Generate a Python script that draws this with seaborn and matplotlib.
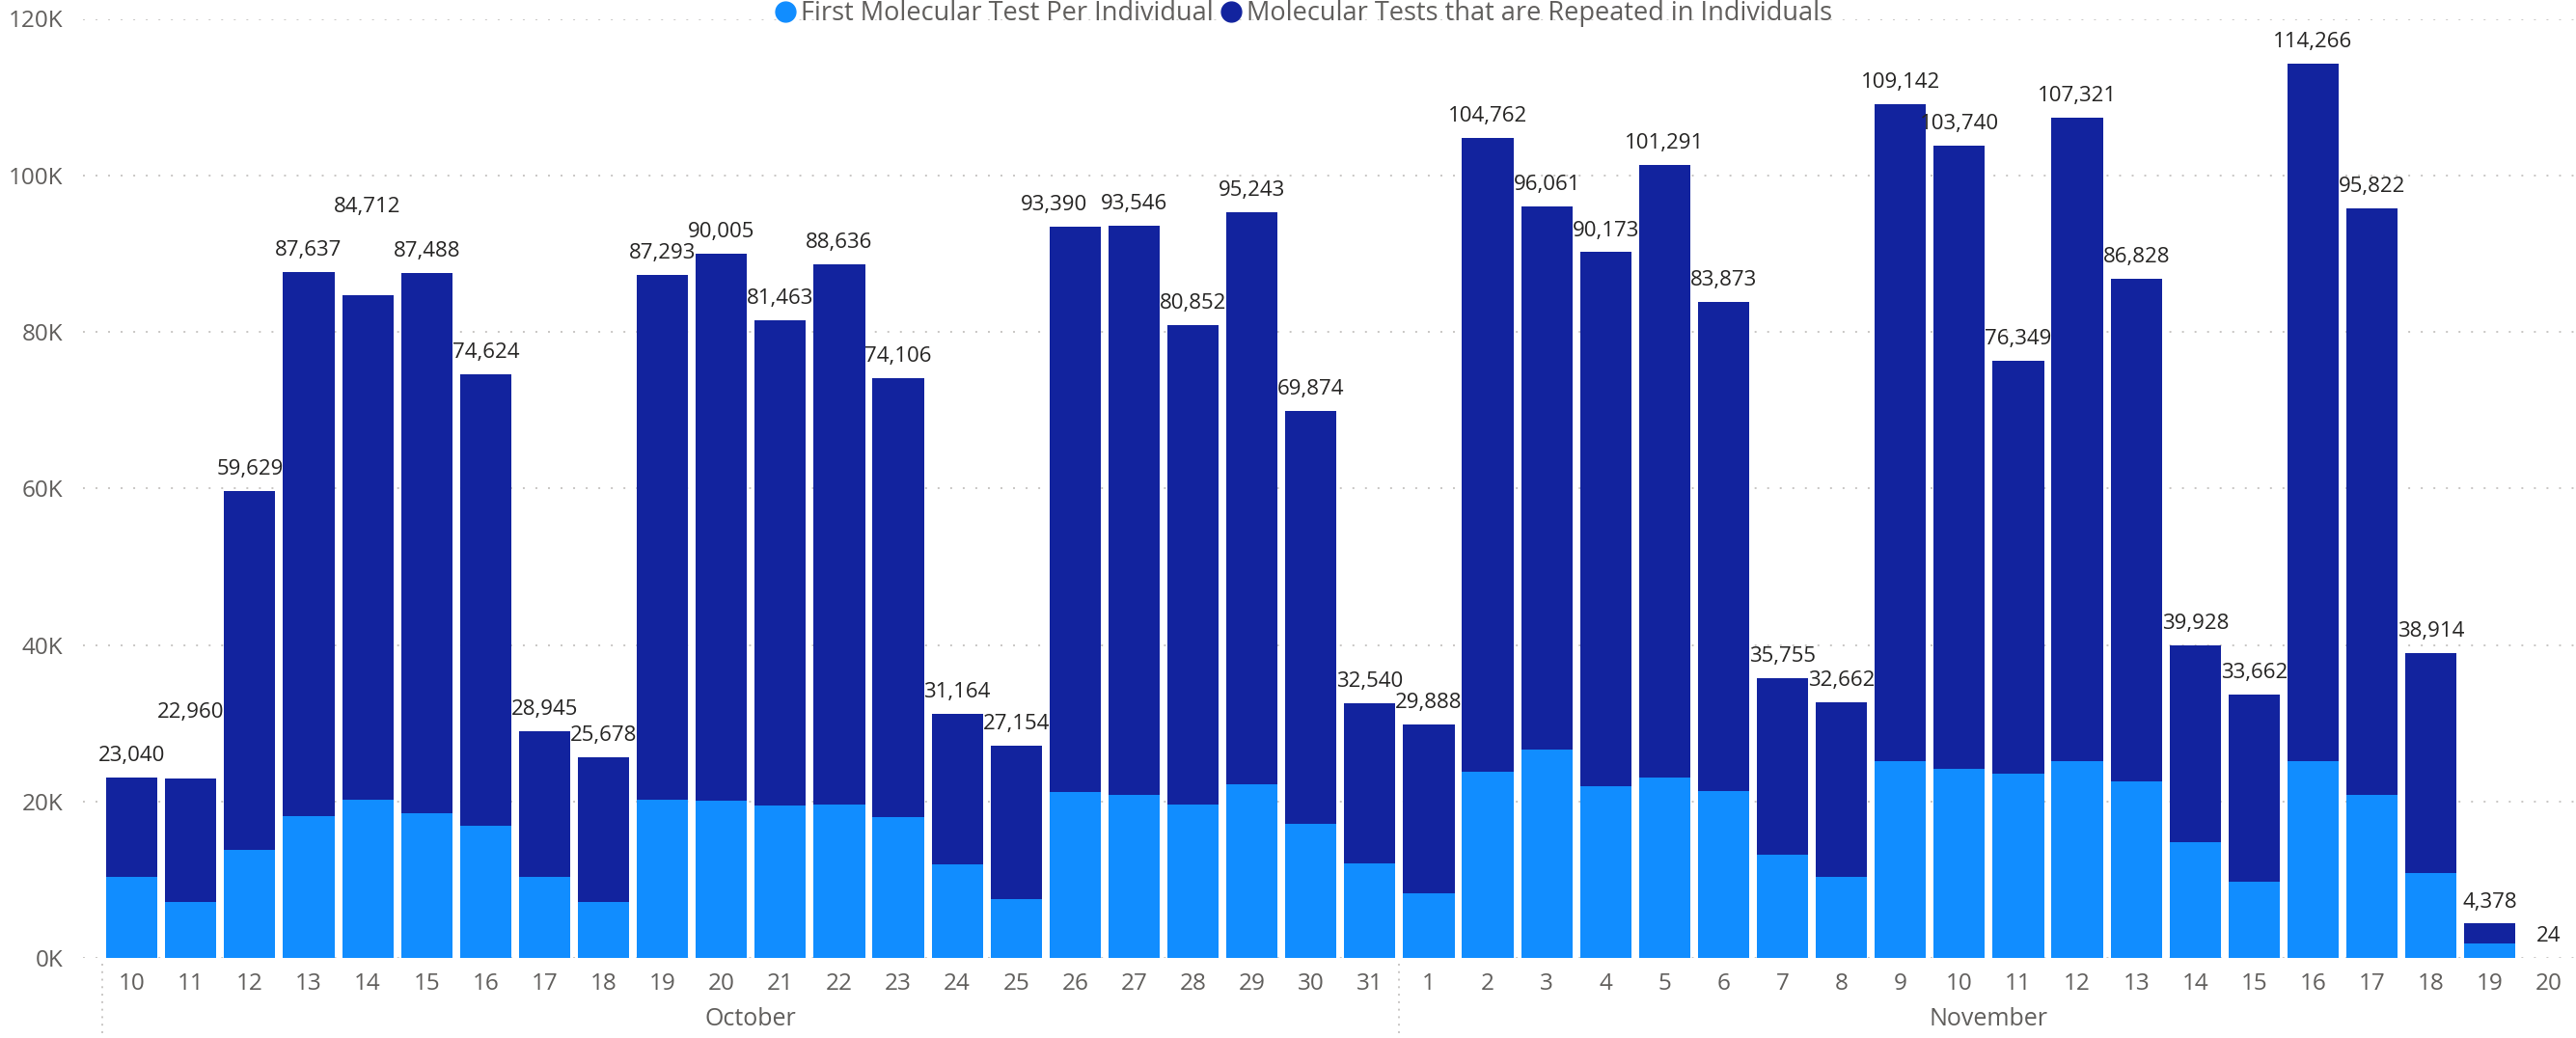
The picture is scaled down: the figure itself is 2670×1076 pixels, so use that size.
import numpy as np
import pandas as pd
import matplotlib
matplotlib.use("Agg")
import matplotlib.pyplot as plt
import matplotlib.transforms as mtransforms
from matplotlib.lines import Line2D
import seaborn as sns

# ------------------------------------------------------------
# Data
# ------------------------------------------------------------
oct_days = list(range(10, 32))
nov_days = list(range(1, 21))

oct_totals = [23040, 22960, 59629, 87637, 84712, 87488, 74624, 28945, 25678, 87293, 90005,
              81463, 88636, 74106, 31164, 27154, 93390, 93546, 80852, 95243, 69874, 32540]
nov_totals = [29888, 104762, 96061, 90173, 101291, 83873, 35755, 32662, 109142, 103740,
              76349, 107321, 86828, 39928, 33662, 114266, 95822, 38914, 4378, 24]

oct_first = [10400, 7200, 13800, 18100, 20200, 18500, 16900, 10300, 7200, 20200, 20100,
             19500, 19600, 18000, 12000, 7500, 21200, 20800, 19600, 22200, 17100, 12100]
nov_first = [8300, 23800, 26600, 22000, 23100, 21300, 13200, 10300, 25100, 24200,
             23500, 25100, 22500, 14800, 9700, 25200, 20800, 10900, 1800, 0]

months = ["October", "November"]
series_names = ["First Molecular Test Per Individual",
                "Molecular Tests that are Repeated in Individuals"]

# ------------------------------------------------------------
# Build table
# ------------------------------------------------------------
df = pd.DataFrame({
    "month": ["October"] * len(oct_days) + ["November"] * len(nov_days),
    "day": oct_days + nov_days,
    "total": oct_totals + nov_totals,
    "first": oct_first + nov_first,
})
df["repeated"] = df["total"] - df["first"]
df["key"] = df["month"].str[:3] + " " + df["day"].astype(str)
order = list(df["key"])

light = "#118DFF"
dark = "#12239E"
grey_txt = "#605E5C"

sns.set_style("white")
plt.rcParams["font.family"] = ["Open Sans", "DejaVu Sans"]

fig = plt.figure(figsize=(26.7, 10.76), dpi=100)
ax = fig.add_axes([86 / 2670, 1 - 993 / 1076, 1 - 86 / 2670, (993 - 19.5) / 1076])

# stacked bars: draw the totals in dark, then the first tests on top in light
sns.barplot(data=df, x="key", y="total", order=order, color=dark, width=0.87,
            saturation=1, linewidth=0, ax=ax)
sns.barplot(data=df, x="key", y="first", order=order, color=light, width=0.87,
            saturation=1, linewidth=0, ax=ax)

ax.set_xlim(-0.83, len(df) - 1 + 0.46)
ax.set_ylim(0, 120000)
ax.set_yticks(np.arange(0, 120001, 20000))
ax.yaxis.set_major_formatter(matplotlib.ticker.FuncFormatter(lambda v, p: f"{int(v / 1000)}K"))
ax.set_xticks(range(len(df)))
ax.set_xticklabels(df["day"].astype(str))
ax.set_xlabel("")
ax.set_ylabel("")
ax.tick_params(axis="both", length=0, labelsize=17.5, labelcolor=grey_txt)
ax.tick_params(axis="y", pad=15)
ax.tick_params(axis="x", pad=10.5)
for s in ax.spines.values():
    s.set_visible(False)
ax.set_axisbelow(True)
ax.yaxis.grid(True, color="#C8C6C4", linestyle=(0, (1, 5.7)), linewidth=1.4)
ax.xaxis.grid(False)

# data labels (total) above each bar; a few are nudged to avoid colliding
stack_over = {1: 0, 4: 3}
shift_left = {16: -15.8}
for i, tot in enumerate(df["total"]):
    if i in stack_over:
        ref = df["total"].iloc[stack_over[i]]
        off = 44.6
    else:
        ref = tot
        off = 12.2
    ax.annotate(f"{tot:,}", xy=(i, ref), xytext=(shift_left.get(i, 0), off),
                textcoords="offset points", ha="center", va="baseline",
                fontsize=16, color="#252423")

# month labels and group separators under the axis
trans = mtransforms.blended_transform_factory(ax.transData, ax.transAxes)
n_oct = len(oct_days)
ax.text((n_oct - 1) / 2, -0.065, months[0], transform=trans, ha="center", va="center",
        fontsize=18, color=grey_txt)
ax.text(n_oct + (len(nov_days) - 1) / 2, -0.065, months[1], transform=trans, ha="center",
        va="center", fontsize=18, color=grey_txt)
for xs in [-0.5, n_oct - 0.5]:
    ax.plot([xs, xs], [-0.006, -0.09], transform=trans, clip_on=False,
            color="#C8C6C4", linestyle=(0, (1, 3)), linewidth=1.4)

# legend
handles = [Line2D([], [], marker="o", linestyle="", markersize=15, color=light),
           Line2D([], [], marker="o", linestyle="", markersize=15, color=dark)]
leg = fig.legend(handles, series_names, loc="center left",
                 bbox_to_anchor=(806 / 2670, 1 - 14 / 1076), ncol=2, frameon=False,
                 fontsize=19.5, handlelength=0.6, handletextpad=0.3, columnspacing=0.35,
                 borderpad=0, borderaxespad=0)
for t in leg.get_texts():
    t.set_color(grey_txt)

fig.savefig("out.png", dpi=100)
